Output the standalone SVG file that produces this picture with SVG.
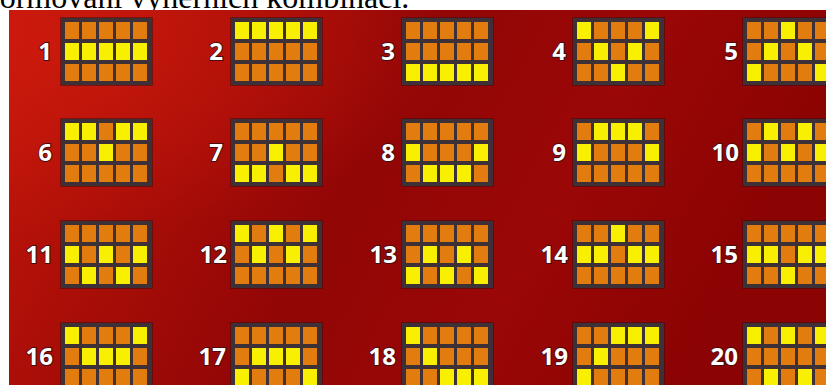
<svg xmlns="http://www.w3.org/2000/svg" xmlns:xlink="http://www.w3.org/1999/xlink" width="826" height="385" viewBox="0 0 826 385">
  <style>
    .num { font-family: "Open Sans", "Liberation Sans", sans-serif; font-weight: 700; font-size: 24px; fill: #ffffff; stroke: #4a0c0c; stroke-width: 2px; paint-order: stroke; text-anchor: end; }
    .cap { font-family: "Liberation Serif", "Times New Roman", serif; font-size: 32px; fill: #000000; }
    .yc { fill: #f8f000; }
  </style>
  <defs>
    <linearGradient id="bg" x1="0" y1="0" x2="1" y2="0.25">
      <stop offset="0" stop-color="#c5170b"/>
      <stop offset="0.25" stop-color="#aa0e07"/>
      <stop offset="0.5" stop-color="#920606"/>
      <stop offset="0.75" stop-color="#9a0706"/>
      <stop offset="1" stop-color="#8c0303"/>
    </linearGradient>
    <radialGradient id="glow" cx="0.05" cy="0.1" r="0.5">
      <stop offset="0" stop-color="#d21c0e" stop-opacity="0.6"/>
      <stop offset="1" stop-color="#d21c0e" stop-opacity="0"/>
    </radialGradient>
    <pattern id="cells" patternUnits="userSpaceOnUse" x="4" y="4" width="17" height="21">
      <rect x="0" y="0" width="14" height="17" fill="#e27c0e"/>
    </pattern>
    <g id="grid">
      <rect x="-1" y="-1" width="93" height="69" fill="#2a0d0d" opacity="0.45"/>
      <rect x="0" y="0" width="91" height="67" fill="#3d3036"/>
      <rect x="4" y="4" width="82" height="59" fill="url(#cells)"/>
    </g>
    <rect id="y" width="14" height="17" class="yc"/>
  </defs>

  <rect x="0" y="0" width="826" height="385" fill="#ffffff"/>
  <text class="cap" x="-11" y="8">formování výherních kombinací.</text>
  <rect x="9" y="10" width="817" height="375" fill="url(#bg)"/>
  <rect x="9" y="10" width="817" height="375" fill="url(#glow)"/>

  <g id="connectors"/>

  <g id="line-1" transform="translate(61,18)"><use href="#grid"/><use href="#y" x="4" y="25"/><use href="#y" x="21" y="25"/><use href="#y" x="38" y="25"/><use href="#y" x="55" y="25"/><use href="#y" x="72" y="25"/><text class="num" x="-9" y="42">1</text></g>
  <g id="line-2" transform="translate(231,18)"><use href="#grid"/><use href="#y" x="4" y="4"/><use href="#y" x="21" y="4"/><use href="#y" x="38" y="4"/><use href="#y" x="55" y="4"/><use href="#y" x="72" y="4"/><text class="num" x="-8" y="42">2</text></g>
  <g id="line-3" transform="translate(402,18)"><use href="#grid"/><use href="#y" x="4" y="46"/><use href="#y" x="21" y="46"/><use href="#y" x="38" y="46"/><use href="#y" x="55" y="46"/><use href="#y" x="72" y="46"/><text class="num" x="-7" y="42">3</text></g>
  <g id="line-4" transform="translate(573,18)"><use href="#grid"/><use href="#y" x="4" y="4"/><use href="#y" x="72" y="4"/><use href="#y" x="21" y="25"/><use href="#y" x="55" y="25"/><use href="#y" x="38" y="46"/><text class="num" x="-7" y="42">4</text></g>
  <g id="line-5" transform="translate(743,18)"><use href="#grid"/><use href="#y" x="38" y="4"/><use href="#y" x="21" y="25"/><use href="#y" x="55" y="25"/><use href="#y" x="4" y="46"/><use href="#y" x="72" y="46"/><text class="num" x="-5" y="42">5</text></g>

  <g id="line-6" transform="translate(61,119)"><use href="#grid"/><use href="#y" x="4" y="4"/><use href="#y" x="21" y="4"/><use href="#y" x="55" y="4"/><use href="#y" x="72" y="4"/><use href="#y" x="38" y="25"/><text class="num" x="-9" y="42">6</text></g>
  <g id="line-7" transform="translate(231,119)"><use href="#grid"/><use href="#y" x="38" y="25"/><use href="#y" x="4" y="46"/><use href="#y" x="21" y="46"/><use href="#y" x="55" y="46"/><use href="#y" x="72" y="46"/><text class="num" x="-8" y="42">7</text></g>
  <g id="line-8" transform="translate(402,119)"><use href="#grid"/><use href="#y" x="4" y="25"/><use href="#y" x="72" y="25"/><use href="#y" x="21" y="46"/><use href="#y" x="38" y="46"/><use href="#y" x="55" y="46"/><text class="num" x="-7" y="42">8</text></g>
  <g id="line-9" transform="translate(573,119)"><use href="#grid"/><use href="#y" x="21" y="4"/><use href="#y" x="38" y="4"/><use href="#y" x="55" y="4"/><use href="#y" x="4" y="25"/><use href="#y" x="72" y="25"/><text class="num" x="-7" y="42">9</text></g>
  <g id="line-10" transform="translate(743,119)"><use href="#grid"/><use href="#y" x="21" y="4"/><use href="#y" x="55" y="4"/><use href="#y" x="4" y="25"/><use href="#y" x="38" y="25"/><use href="#y" x="72" y="25"/><text class="num" x="-4" y="42">10</text></g>

  <g id="line-11" transform="translate(61,221)"><use href="#grid"/><use href="#y" x="4" y="25"/><use href="#y" x="38" y="25"/><use href="#y" x="72" y="25"/><use href="#y" x="21" y="46"/><use href="#y" x="55" y="46"/><text class="num" x="-8" y="42">11</text></g>
  <g id="line-12" transform="translate(231,221)"><use href="#grid"/><use href="#y" x="4" y="4"/><use href="#y" x="38" y="4"/><use href="#y" x="72" y="4"/><use href="#y" x="21" y="25"/><use href="#y" x="55" y="25"/><text class="num" x="-4" y="42">12</text></g>
  <g id="line-13" transform="translate(402,221)"><use href="#grid"/><use href="#y" x="21" y="25"/><use href="#y" x="55" y="25"/><use href="#y" x="4" y="46"/><use href="#y" x="38" y="46"/><use href="#y" x="72" y="46"/><text class="num" x="-5" y="42">13</text></g>
  <g id="line-14" transform="translate(573,221)"><use href="#grid"/><use href="#y" x="38" y="4"/><use href="#y" x="4" y="25"/><use href="#y" x="21" y="25"/><use href="#y" x="55" y="25"/><use href="#y" x="72" y="25"/><text class="num" x="-5" y="42">14</text></g>
  <g id="line-15" transform="translate(743,221)"><use href="#grid"/><use href="#y" x="4" y="25"/><use href="#y" x="21" y="25"/><use href="#y" x="55" y="25"/><use href="#y" x="72" y="25"/><use href="#y" x="38" y="46"/><text class="num" x="-5" y="42">15</text></g>

  <g id="line-16" transform="translate(61,323)"><use href="#grid"/><use href="#y" x="4" y="4"/><use href="#y" x="72" y="4"/><use href="#y" x="21" y="25"/><use href="#y" x="38" y="25"/><use href="#y" x="55" y="25"/><text class="num" x="-8" y="42">16</text></g>
  <g id="line-17" transform="translate(231,323)"><use href="#grid"/><use href="#y" x="21" y="25"/><use href="#y" x="38" y="25"/><use href="#y" x="55" y="25"/><use href="#y" x="4" y="46"/><use href="#y" x="72" y="46"/><text class="num" x="-5" y="42">17</text></g>
  <g id="line-18" transform="translate(402,323)"><use href="#grid"/><use href="#y" x="4" y="4"/><use href="#y" x="21" y="25"/><use href="#y" x="38" y="46"/><use href="#y" x="55" y="46"/><use href="#y" x="72" y="46"/><text class="num" x="-6" y="42">18</text></g>
  <g id="line-19" transform="translate(573,323)"><use href="#grid"/><use href="#y" x="38" y="4"/><use href="#y" x="55" y="4"/><use href="#y" x="72" y="4"/><use href="#y" x="21" y="25"/><use href="#y" x="4" y="46"/><text class="num" x="-5" y="42">19</text></g>
  <g id="line-20" transform="translate(743,323)"><use href="#grid"/><use href="#y" x="4" y="4"/><use href="#y" x="38" y="4"/><use href="#y" x="72" y="4"/><use href="#y" x="21" y="46"/><use href="#y" x="55" y="46"/><text class="num" x="-5" y="42">20</text></g>
</svg>
